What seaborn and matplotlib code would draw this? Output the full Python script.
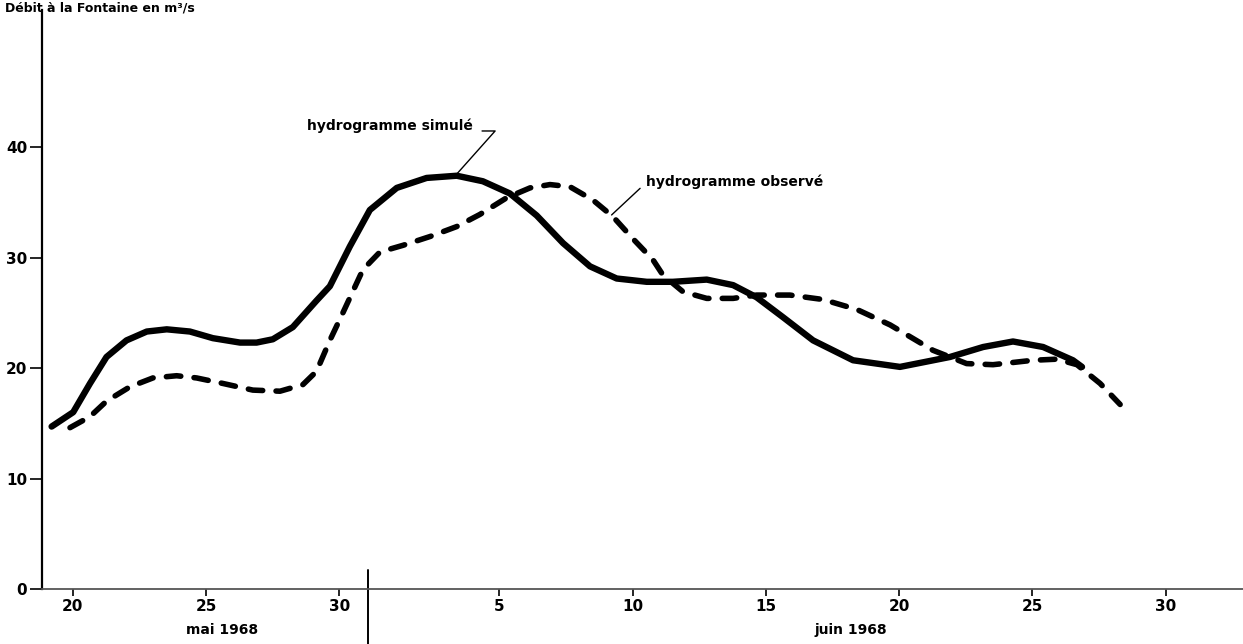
import numpy as np
import pandas as pd
import seaborn as sns
import matplotlib.pyplot as plt

# day numbers counted from 1 May 1968 (31 = 31 mai, 36 = 5 juin)
sim_day = [19.20, 20.01, 20.64, 21.26, 22.01, 22.77, 23.52, 24.39, 25.25, 26.27,
           26.89, 27.50, 28.25, 29.14, 29.64, 30.39, 31.14, 32.15, 33.27, 34.40,
           35.38, 36.39, 37.40, 38.39, 39.40, 40.40, 41.53, 42.51, 43.78, 44.77,
           45.65, 46.64, 47.77, 49.27, 51.03, 52.91, 54.15, 55.27, 56.40, 57.52,
           57.86]
sim_q = [14.7, 16.0, 18.6, 21.0, 22.5, 23.3, 23.5, 23.3, 22.7, 22.3,
         22.3, 22.6, 23.7, 26.1, 27.4, 31.0, 34.3, 36.3, 37.2, 37.4,
         36.9, 35.8, 33.8, 31.3, 29.2, 28.1, 27.8, 27.8, 28.0, 27.5,
         26.4, 24.6, 22.5, 20.7, 20.1, 21.0, 21.9, 22.4, 21.9, 20.7,
         20.1]

obs_day = [19.89, 20.64, 21.26, 22.14, 23.00, 23.89, 24.64, 25.63, 26.75, 27.77,
           28.63, 29.14, 29.64, 30.13, 30.88, 31.52, 32.38, 33.40, 34.40, 35.27,
           36.27, 37.15, 37.90, 38.65, 39.51, 40.26, 41.01, 41.76, 42.14, 42.89,
           43.78, 44.77, 45.65, 46.90, 48.14, 49.41, 50.66, 52.27, 53.53, 54.52,
           56.02, 56.92, 57.67, 58.54, 59.29]
obs_q = [14.6, 15.6, 17.0, 18.3, 19.1, 19.3, 19.1, 18.6, 18.0, 17.9,
         18.5, 19.7, 22.5, 25.0, 28.9, 30.5, 31.1, 31.9, 32.8, 33.9,
         35.4, 36.3, 36.6, 36.4, 35.2, 33.7, 31.7, 29.8, 28.4, 26.9,
         26.3, 26.3, 26.6, 26.6, 26.2, 25.3, 23.9, 21.6, 20.4, 20.3,
         20.7, 20.8, 20.3, 18.6, 16.7]

tick_days = [20, 25, 30, 36, 41, 46, 51, 56, 61]
tick_labels = ["20", "25", "30", "5", "10", "15", "20", "25", "30"]
y_ticks = [0, 10, 20, 30, 40]

sns.set_style("white")
plt.rcParams['font.family'] = ['DejaVu Sans']
plt.rcParams['text.color'] = 'black'
plt.rcParams['xtick.color'] = 'black'
plt.rcParams['ytick.color'] = 'black'

fig = plt.figure(figsize=(12.43, 6.44), dpi=100)
ax = fig.add_axes([0.0338, 0.0854, 0.9662, 0.8991])

sim = pd.DataFrame({"day": sim_day, "q": sim_q})
obs = pd.DataFrame({"day": obs_day, "q": obs_q})

sns.lineplot(data=sim, x="day", y="q", ax=ax, color="black", linewidth=4.6,
             solid_capstyle="round", solid_joinstyle="round")
sns.lineplot(data=obs, x="day", y="q", ax=ax, color="black", linewidth=4.0,
             linestyle=(0, (2.6, 2.4)), dash_capstyle="round",
             dash_joinstyle="round")

ax.set_xlim(18.84, 63.9)
ax.set_ylim(0, 52.4)
ax.set_xticks(tick_days)
ax.set_xticklabels(tick_labels)
ax.set_yticks(y_ticks)
ax.set_xlabel("")
ax.set_ylabel("")

for s in ["top", "right"]:
    ax.spines[s].set_visible(False)
ax.spines["left"].set_color("black")
ax.spines["left"].set_linewidth(1.6)
ax.spines["bottom"].set_color("#555555")
ax.spines["bottom"].set_linewidth(1.3)

ax.tick_params(axis="y", left=True, direction="out", length=8.6, width=1.2,
               labelsize=11, pad=2, labelcolor="black")
ax.tick_params(axis="x", bottom=True, direction="out", length=5, width=1.2,
               labelsize=11, pad=2, labelcolor="black")
for lab in ax.get_xticklabels() + ax.get_yticklabels():
    lab.set_fontweight("bold")

# separator between the two months
trans = ax.get_xaxis_transform()
ax.plot([31.07, 31.07], [0.033, -0.1], transform=trans, color="black",
        linewidth=1.4, clip_on=False)
ax.text(25.6, -0.071, "mai 1968", transform=trans, ha="center", va="center",
        fontsize=10, fontweight="bold")
ax.text(49.2, -0.071, "juin 1968", transform=trans, ha="center", va="center",
        fontsize=10, fontweight="bold")

fig.text(0.004, 0.987, "Débit à la Fontaine en m³/s", ha="left", va="center",
         fontsize=9, fontweight="bold")

# labels with leader lines
ax.text(28.8, 41.9, "hydrogramme simulé", ha="left", va="center",
        fontsize=10, fontweight="bold")
ax.plot([35.35, 35.84, 34.37], [41.45, 41.45, 37.47], color="black", linewidth=1.0)
ax.text(41.5, 36.9, "hydrogramme observé", ha="left", va="center",
        fontsize=10, fontweight="bold")
ax.plot([41.28, 40.21], [36.26, 33.85], color="black", linewidth=1.0)

fig.savefig("out.png", dpi=100)
